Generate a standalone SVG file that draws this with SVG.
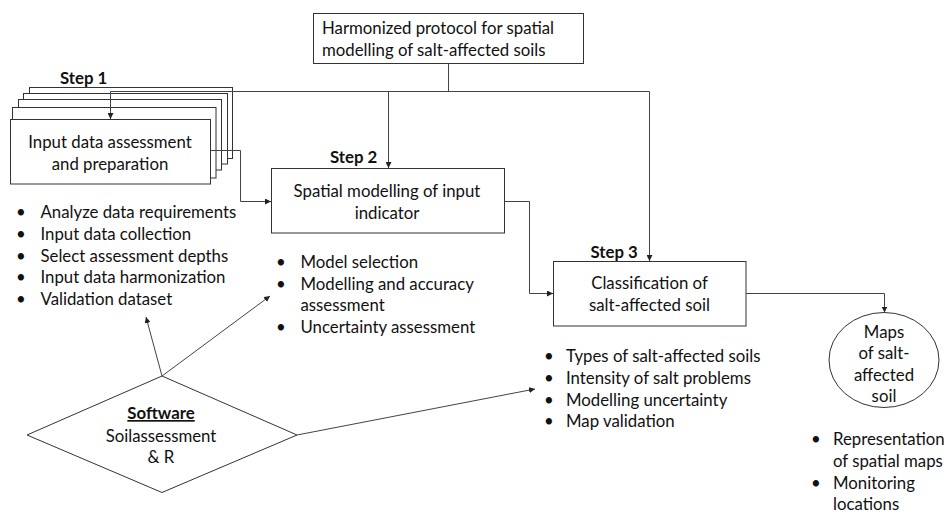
<svg xmlns="http://www.w3.org/2000/svg" width="945" height="515" viewBox="0 0 945 515">
<style>
  text { font-family: Lato, "Noto Sans", "Liberation Sans", sans-serif; font-size: 16.8px; fill: #111; }
  .c { text-anchor: middle; }
  .step { font-weight: bold; }
  .box { fill: #fff; stroke: #333; stroke-width: 1; }
  .ln { fill: none; stroke: #444; stroke-width: 1; }
  .arr { fill: none; stroke: #444; stroke-width: 1; marker-end: url(#ah); }
</style>
<defs>
  <marker id="ah" viewBox="0 0 10 10" refX="10" refY="5" markerWidth="6" markerHeight="6" markerUnits="userSpaceOnUse" orient="auto">
    <path d="M0,0 L10,5 L0,10 z" fill="#222"/>
  </marker>
</defs>
<rect width="945" height="515" fill="#fff"/>

<g id="protocol">
  <rect class="box" x="313.5" y="13.5" width="270" height="50"/>
  <text x="322" y="34">Harmonized protocol for spatial</text>
  <text x="322" y="56">modelling of salt-affected soils</text>
</g>

<g id="step1">
  <text class="step" x="60" y="84">Step 1</text>
  <rect class="box" x="29.5" y="87.5" width="203" height="71"/>
  <rect class="box" x="23.5" y="93.5" width="204" height="70.5"/>
  <rect class="box" x="18.5" y="99.5" width="203" height="70.5"/>
  <rect class="box" x="12.5" y="107.5" width="203.5" height="70.5"/>
  <rect class="box" x="10.5" y="119.5" width="200" height="64.5"/>
  <text class="c" x="110" y="148">Input data assessment</text>
  <text class="c" x="110" y="169.5">and preparation</text>
</g>

<g id="step1-list">
  <text x="16" y="218">•</text><text x="40.5" y="218">Analyze data requirements</text>
  <text x="16" y="240">•</text><text x="40.5" y="240">Input data collection</text>
  <text x="16" y="261.5">•</text><text x="40.5" y="261.5">Select assessment depths</text>
  <text x="16" y="283">•</text><text x="40.5" y="283">Input data harmonization</text>
  <text x="16" y="305">•</text><text x="40.5" y="305">Validation dataset</text>
</g>

<g id="step2">
  <text class="step" x="330" y="162.5">Step 2</text>
  <rect class="box" x="271.5" y="168.5" width="233" height="64.5"/>
  <text class="c" x="387" y="196.5">Spatial modelling of input</text>
  <text class="c" x="387" y="218.5">indicator</text>
</g>

<g id="step2-list">
  <text x="276" y="268">•</text><text x="300.5" y="268">Model selection</text>
  <text x="276" y="289.5">•</text><text x="300.5" y="289.5">Modelling and accuracy</text>
  <text x="300.5" y="311">assessment</text>
  <text x="276" y="332.5">•</text><text x="300.5" y="332.5">Uncertainty assessment</text>
</g>

<g id="step3">
  <text class="step" x="590.5" y="257.5">Step 3</text>
  <rect class="box" x="553.5" y="261.5" width="192.5" height="64.5"/>
  <text class="c" x="649.5" y="289">Classification of</text>
  <text class="c" x="649.5" y="311">salt-affected soil</text>
</g>

<g id="step3-list">
  <text x="544" y="362">•</text><text x="566" y="362">Types of salt-affected soils</text>
  <text x="544" y="384">•</text><text x="566" y="384">Intensity of salt problems</text>
  <text x="544" y="405.5">•</text><text x="566" y="405.5">Modelling uncertainty</text>
  <text x="544" y="427">•</text><text x="566" y="427">Map validation</text>
</g>

<g id="maps">
  <ellipse class="box" cx="884" cy="360" rx="55" ry="47.5"/>
  <text class="c" x="884" y="337.5">Maps</text>
  <text class="c" x="884" y="359">of salt-</text>
  <text class="c" x="884" y="380.5">affected</text>
  <text class="c" x="884" y="402">soil</text>
</g>

<g id="maps-list">
  <text x="811" y="445">•</text><text x="833" y="445">Representation</text>
  <text x="833" y="467">of spatial maps</text>
  <text x="811" y="488.5">•</text><text x="833" y="488.5">Monitoring</text>
  <text x="833" y="510">locations</text>
</g>

<g id="software">
  <polygon class="box" points="162,376 297,435 162,492.5 27,435"/>
  <text class="c step" x="161" y="419" text-decoration="underline">Software</text>
  <text class="c" x="161" y="441.5">Soilassessment</text>
  <text class="c" x="161" y="463">&amp; R</text>
</g>

<g id="connectors">
  <path class="ln" d="M448.5,63.5 V91.5 M110.5,91.5 H649.5"/>
  <path class="arr" d="M110.5,91.5 V119"/>
  <path class="arr" d="M388.5,91.5 V168"/>
  <path class="arr" d="M649.5,91.5 V261"/>
  <path class="arr" d="M210.5,150.5 H240.5 V201.5 H271"/>
  <path class="arr" d="M504.5,201.5 H529.5 V293.5 H553"/>
  <path class="arr" d="M746,293.5 H884.5 V312.5"/>
  <path class="arr" d="M162,376 L146,317"/>
  <path class="arr" d="M162,376 L270,296"/>
  <path class="arr" d="M297,435 L535,389"/>
</g>
</svg>
